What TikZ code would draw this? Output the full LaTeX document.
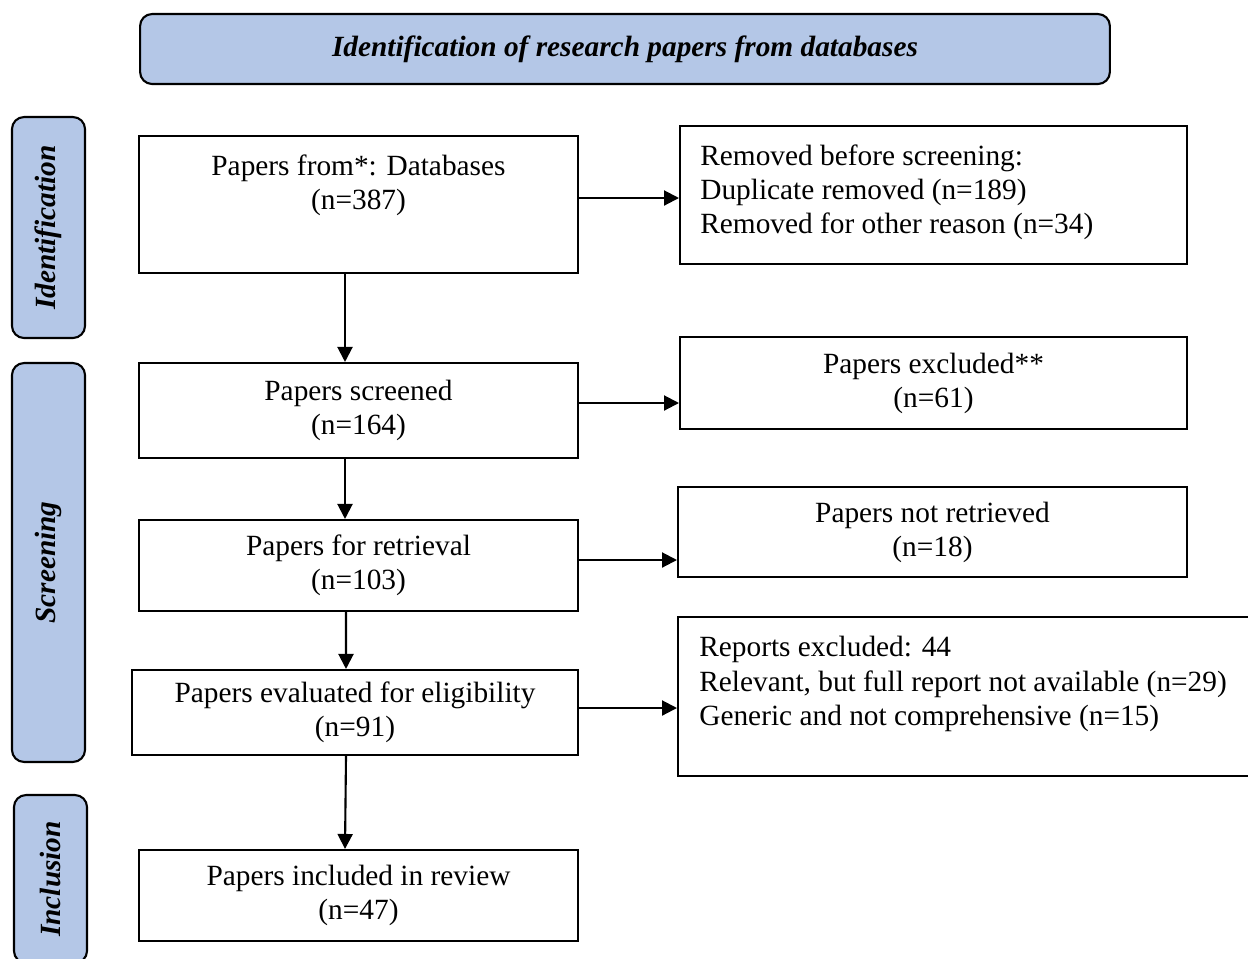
\documentclass[tikz,border=0pt]{standalone}
\usepackage{fontspec}
\setmainfont{Liberation Serif}
\usetikzlibrary{positioning}
\usetikzlibrary{arrows.meta}
\definecolor{phaseblue}{HTML}{B4C7E7}

\begin{document}
\begin{tikzpicture}[x=0.02cm,y=-0.02cm,
  every node/.style={font=\fontsize{16.7pt}{19.4pt}\selectfont},
  box/.style={draw,line width=1.2pt,align=center,inner sep=0pt},
  boxtext/.style={align=center,inner sep=0pt},
  listtext/.style={align=left,inner sep=0pt,anchor=west},
  phase/.style={draw,line width=1.2pt,fill=phaseblue,rounded corners=0.24cm,inner sep=0pt,
    font=\fontsize{16.7pt}{19.4pt}\selectfont\bfseries\itshape},
  arr/.style={-{Triangle[length=0.3cm,width=0.3cm]},line width=1.2pt}]
  \useasboundingbox (0,0) rectangle (1248,958);

  % phase labels
  \node [phase,minimum width=19.4cm,minimum height=1.4cm]          (title) at (625,49)    {Identification of research papers from databases};
  \node [phase,rotate=90,minimum width=4.42cm,minimum height=1.46cm] (ident) at (48.5,227.5) {Identification};
  \node [phase,rotate=90,minimum width=7.98cm,minimum height=1.46cm] (scr)   at (48.5,562.5) {Screening};
  \node [phase,rotate=90,minimum width=3.36cm,minimum height=1.46cm] (inc)   at (50.5,879)   {Inclusion};

  % main column
  \node [box,minimum width=8.78cm,minimum height=2.74cm,
    label={[boxtext,yshift=0.39cm]center:{Papers from*: Databases\\(n=387)}}] (from) at (358.5,204.5) {};
  \node [box,minimum width=8.78cm,minimum height=1.9cm]  (screen) at (358.5,410.5) {Papers screened\\(n=164)};
  \node [box,minimum width=8.78cm,minimum height=1.82cm] (retr)   at (358.5,565.5) {Papers for retrieval\\(n=103)};
  \node [box,minimum width=8.92cm,minimum height=1.7cm]  (elig)   at (355,712.5)   {Papers evaluated for eligibility\\(n=91)};
  \node [box,minimum width=8.78cm,minimum height=1.82cm] (incl)   at (358.5,895.5) {Papers included in review\\(n=47)};

  % right column
  \node [box,minimum width=10.14cm,minimum height=2.76cm,
    label={[listtext,xshift=0.42cm,yshift=0.06cm]west:{Removed before screening:\\Duplicate removed (n=189)\\Removed for other reason (n=34)}}] (rem) at (933.5,195) {};
  \node [box,minimum width=10.14cm,minimum height=1.84cm] (excl)   at (933.5,383) {Papers excluded**\\(n=61)};
  \node [box,minimum width=10.18cm,minimum height=1.8cm]  (notret) at (932.5,532) {Papers not retrieved\\(n=18)};
  \node [box,minimum width=11.68cm,minimum height=3.18cm,
    label={[listtext,xshift=0.44cm,yshift=0.25cm]west:{Reports excluded: 44\\Relevant, but full report not available (n=29)\\Generic and not comprehensive (n=15)}}] (rep) at (970,696.5) {};

  \draw [arr] ([xshift=-0.27cm]from.south) -- ([xshift=-0.27cm]screen.north);
  \draw [arr] ([xshift=-0.27cm]screen.south) -- ([xshift=-0.27cm]retr.north);
  \draw [arr] ([xshift=-0.25cm]retr.south) -- ([xshift=-0.18cm]elig.north);
  \draw [arr] ([xshift=-0.18cm]elig.south) -- ([xshift=-0.27cm]incl.north);

  \draw [arr] ([yshift=0.13cm]from.east) -- ([yshift=0.13cm]from.east -| rem.west);
  \draw [arr] ([yshift=0.15cm]screen.east) -- ([yshift=0.15cm]screen.east -| excl.west);
  \draw [arr] ([yshift=0.11cm]retr.east) -- ([yshift=0.11cm]retr.east -| notret.west);
  \draw [arr] ([yshift=0.09cm]elig.east) -- ([yshift=0.09cm]elig.east -| rep.west);
\end{tikzpicture}
\end{document}
